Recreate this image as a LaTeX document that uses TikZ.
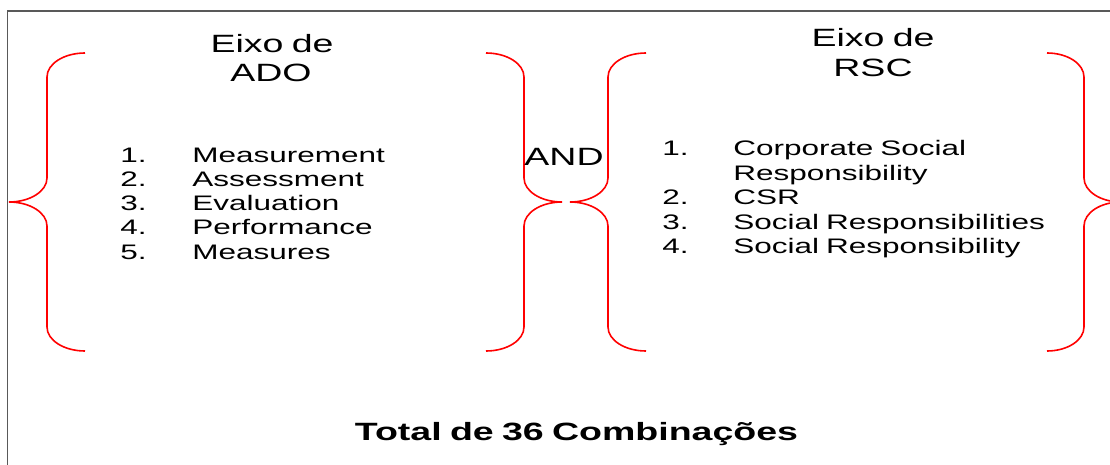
\documentclass[tikz,border=0pt]{standalone}
\usepackage{fontspec}
\setmainfont{Liberation Sans}
\newfontfamily\widefont[FakeStretch=1.5,WordSpace=0.8]{Liberation Sans}
\newcommand{\mybrace}[7]{%
  \draw[bracestyle] (#1,#4) .. controls ({#1+0.5523*(#2-#1)},#4) and (#2,{#4+0.4477*#7}) .. (#2,{#4+#7})
  -- (#2,{#5-#7}) .. controls (#2,{#5-0.4477*#7}) and ({#3+0.5523*(#2-#3)},#5) .. (#3,#5)
  .. controls ({#3+0.5523*(#2-#3)},#5) and (#2,{#5+0.4477*#7}) .. (#2,{#5+#7})
  -- (#2,{#6-#7}) .. controls (#2,{#6-0.4477*#7}) and ({#1+0.5523*(#2-#1)},#6) .. (#1,#6);}
\begin{document}
\begin{tikzpicture}[x=0.75pt,y=-0.75pt,
  bracestyle/.style={draw=red,line width=1.2pt},
  titletxt/.style={inner sep=0pt,anchor=base,font=\widefont\fontsize{18.75}{22}\selectfont},
  itemtxt/.style={inner sep=0pt,anchor=base west,font=\widefont\fontsize{15.75}{18}\selectfont},
  andtxt/.style={inner sep=0pt,anchor=base,font=\widefont\fontsize{18.75}{22}\selectfont},
  totaltxt/.style={inner sep=0pt,anchor=base,font=\widefont\bfseries\fontsize{18.75}{22}\selectfont}]
\useasboundingbox (0,0) rectangle (1110,464);
\clip (0,0) rectangle (1110,464);
\fill[white] (0,0) rectangle (1110,464);
\draw[black!65,line width=1pt] (7.5,11) rectangle (1140,490);
% braces
\mybrace{85}{47}{9}{53}{202}{351}{24}
\mybrace{486}{524}{562}{53}{202}{351}{24}
\mybrace{646}{608}{570}{53}{202}{351}{24}
\mybrace{1047}{1084}{1121}{53}{202}{351}{24}
% titles
\node[titletxt] (t1a) at (272,52) {Eixo de};
\node[titletxt] (t1b) at (271,81) {ADO};
\node[titletxt] (t2a) at (873,46) {Eixo de};
\node[titletxt] (t2b) at (873,76) {RSC};
% left list
\node[itemtxt] (n1) at (120,162) {1.};
\node[itemtxt] (n2) at (120,186.3) {2.};
\node[itemtxt] (n3) at (120,210.6) {3.};
\node[itemtxt] (n4) at (120,234.9) {4.};
\node[itemtxt] (n5) at (120,259.2) {5.};
\node[itemtxt] (a1) at (192,162) {Measurement};
\node[itemtxt] (a2) at (192,186.3) {Assessment};
\node[itemtxt] (a3) at (192,210.6) {Evaluation};
\node[itemtxt] (a4) at (192,234.9) {Performance};
\node[itemtxt] (a5) at (192,259.2) {Measures};
% right list
\node[itemtxt] (m1) at (662,155.5) {1.};
\node[itemtxt] (m2) at (662,204.5) {2.};
\node[itemtxt] (m3) at (662,229) {3.};
\node[itemtxt] (m4) at (662,253.5) {4.};
\node[itemtxt] (b1) at (733,155.5) {Corporate Social};
\node[itemtxt] (b1b) at (733,180) {Responsibility};
\node[itemtxt] (b2) at (733,204.5) {CSR};
\node[itemtxt] (b3) at (733,229) {Social Responsibilities};
\node[itemtxt] (b4) at (733,253.5) {Social Responsibility};
% AND and total
\node[andtxt] (and) at (564,165) {AND};
\node[totaltxt] (total) at (576.5,440) {Total de 36 Combinações};
\end{tikzpicture}
\end{document}
